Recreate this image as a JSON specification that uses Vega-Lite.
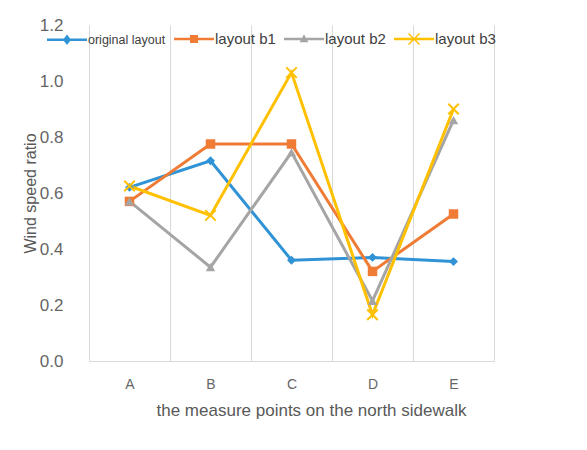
{
  "$schema": "https://vega.github.io/schema/vega-lite/v6.json",
  "width": 405,
  "height": 336,
  "autosize": {"type": "none"},
  "padding": {"left": 89, "top": 25, "right": 93, "bottom": 89},
  "background": "white",
  "config": {
    "view": {"stroke": null},
    "font": "Liberation Sans",
    "axis": {"labelColor": "#666666", "titleColor": "#595959", "titleFontWeight": "normal"}
  },
  "data": {
    "values": [
      {"point": "A", "series": "original layout", "ratio": 0.62},
      {"point": "B", "series": "original layout", "ratio": 0.715},
      {"point": "C", "series": "original layout", "ratio": 0.36},
      {"point": "D", "series": "original layout", "ratio": 0.37},
      {"point": "E", "series": "original layout", "ratio": 0.355},
      {"point": "A", "series": "layout b1", "ratio": 0.57},
      {"point": "B", "series": "layout b1", "ratio": 0.775},
      {"point": "C", "series": "layout b1", "ratio": 0.775},
      {"point": "D", "series": "layout b1", "ratio": 0.32},
      {"point": "E", "series": "layout b1", "ratio": 0.525},
      {"point": "A", "series": "layout b2", "ratio": 0.57},
      {"point": "B", "series": "layout b2", "ratio": 0.335},
      {"point": "C", "series": "layout b2", "ratio": 0.745},
      {"point": "D", "series": "layout b2", "ratio": 0.215},
      {"point": "E", "series": "layout b2", "ratio": 0.86},
      {"point": "A", "series": "layout b3", "ratio": 0.625},
      {"point": "B", "series": "layout b3", "ratio": 0.52},
      {"point": "C", "series": "layout b3", "ratio": 1.03},
      {"point": "D", "series": "layout b3", "ratio": 0.165},
      {"point": "E", "series": "layout b3", "ratio": 0.9}
    ]
  },
  "encoding": {
    "x": {
      "field": "point",
      "type": "nominal",
      "scale": {"paddingInner": 0, "paddingOuter": 0},
      "axis": {
        "title": "the measure points on the north sidewalk",
        "titleFontSize": 17,
        "titlePadding": 11,
        "titleX": 222,
        "titleAlign": "center",
        "labelAngle": 0,
        "labelFontSize": 14,
        "labelPadding": 16,
        "ticks": false,
        "tickBand": "extent",
        "grid": true,
        "gridColor": "#d9d9d9",
        "domainColor": "#d9d9d9"
      }
    },
    "y": {
      "field": "ratio",
      "type": "quantitative",
      "scale": {"domain": [0, 1.2], "nice": false},
      "axis": {
        "title": "Wind speed ratio",
        "titleFontSize": 16,
        "titlePadding": 1,
        "values": [0, 0.2, 0.4, 0.6, 0.8, 1.0, 1.2],
        "format": ".1f",
        "labelFontSize": 17,
        "labelPadding": 26,
        "ticks": false,
        "grid": false,
        "domain": false
      }
    },
    "color": {
      "field": "series",
      "type": "nominal",
      "sort": ["original layout", "layout b1", "layout b2", "layout b3"],
      "scale": {
        "domain": ["original layout", "layout b1", "layout b2", "layout b3"],
        "range": ["#2F93D6", "#F07B35", "#A5A5A5", "#FFC000"]
      },
      "legend": {
        "title": null,
        "orient": "none",
        "legendX": -42,
        "legendY": -6,
        "direction": "horizontal",
        "columns": 4,
        "symbolSize": 1600,
        "symbolStrokeWidth": 0,
        "labelFontSize": 15,
        "labelColor": "#404040",
        "labelOffset": 1,
        "columnPadding": 8,
        "encode": {
          "symbols": {
            "update": {
              "fill": {"scale": "color", "field": "value"},
              "stroke": {"value": "transparent"},
              "strokeWidth": {"value": 0},
              "opacity": {"value": 1},
              "shape": {"signal": "datum.value === 'original layout' ? 'M-1,-0.065H1V0.065H-1Z M0,-0.26L0.2,0L0,0.26L-0.2,0Z' : datum.value === 'layout b1' ? 'M-1,-0.065H1V0.065H-1Z M-0.2,-0.2H0.2V0.2H-0.2Z' : datum.value === 'layout b2' ? 'M-1,-0.065H1V0.065H-1Z M0,-0.24L0.22,0.16H-0.22Z' : 'M-1,-0.065H1V0.065H-1Z M-0.3,-0.25L-0.25,-0.3L0.3,0.25L0.25,0.3Z M0.25,-0.3L0.3,-0.25L-0.25,0.3L-0.3,0.25Z'"}
            }
          },
          "labels": {
            "update": {
              "fontSize": {"signal": "datum.value === 'original layout' ? 12.5 : 15"}
            }
          }
        }
      }
    }
  },
  "layer": [
    {
      "mark": {"type": "line", "strokeWidth": 3}
    },
    {
      "transform": [{"filter": "datum.series === 'original layout'"}],
      "mark": {"type": "point", "shape": "diamond", "filled": true, "size": 80, "opacity": 1}
    },
    {
      "transform": [{"filter": "datum.series === 'layout b1'"}],
      "mark": {"type": "point", "shape": "square", "filled": true, "size": 90, "opacity": 1}
    },
    {
      "transform": [{"filter": "datum.series === 'layout b2'"}],
      "mark": {"type": "point", "shape": "triangle-up", "filled": true, "size": 90, "opacity": 1}
    },
    {
      "transform": [{"filter": "datum.series === 'layout b3'"}],
      "mark": {"type": "point", "shape": "M-1,-1L1,1M-1,1L1,-1", "filled": false, "size": 110, "strokeWidth": 2, "opacity": 1}
    }
  ]
}
